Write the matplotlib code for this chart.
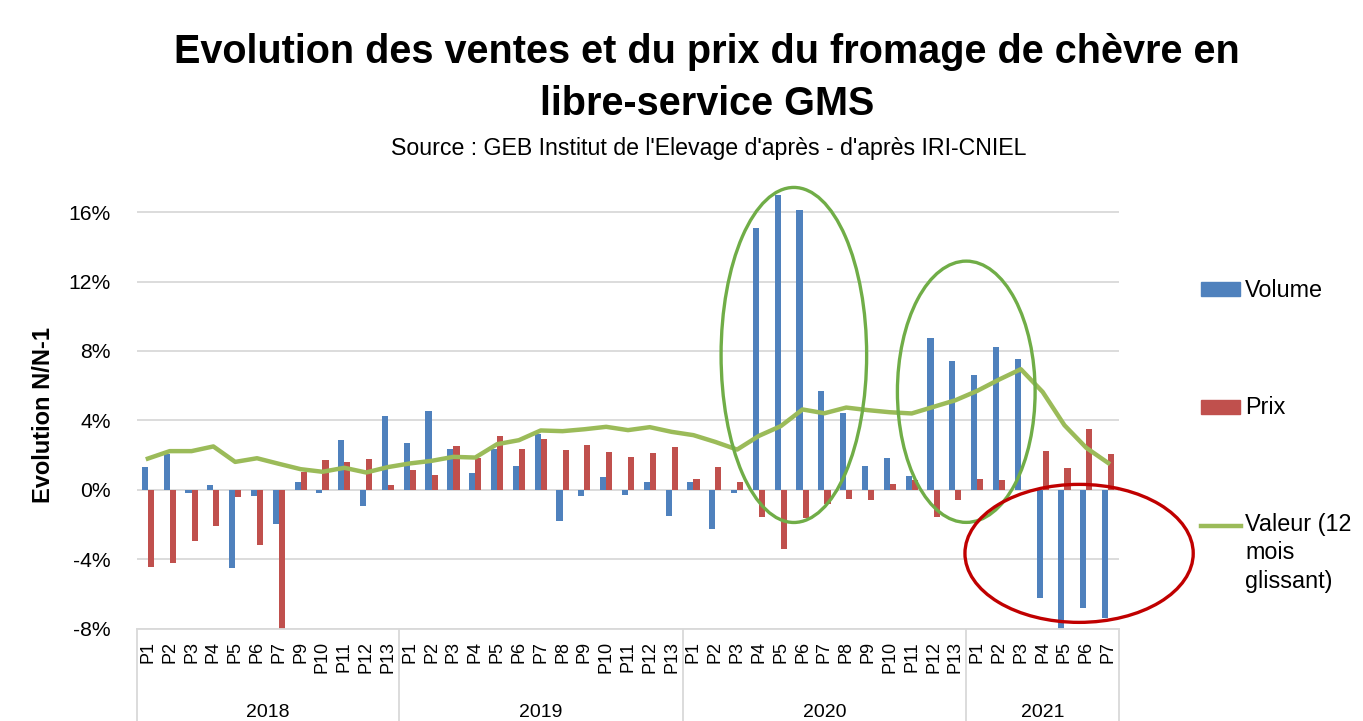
import numpy as np
import matplotlib
matplotlib.use("Agg")
import matplotlib.pyplot as plt
from matplotlib.patches import Ellipse, Rectangle
from matplotlib.lines import Line2D
import matplotlib.transforms as mtransforms

plt.rcParams['font.family'] = ['Liberation Sans', 'DejaVu Sans']

# periods (2018 has no P8)
years = ['2018', '2019', '2020', '2021']
periods = [
    ['P1', 'P2', 'P3', 'P4', 'P5', 'P6', 'P7', 'P9', 'P10', 'P11', 'P12', 'P13'],
    ['P%d' % i for i in range(1, 14)],
    ['P%d' % i for i in range(1, 14)],
    ['P%d' % i for i in range(1, 8)],
]

# evolution N/N-1 in %
volume = [1.31, 2.09, -0.20, 0.27, -4.53, -0.35, -1.94, 0.46, -0.21, 2.86, -0.92, 4.26,
          2.67, 4.53, 2.34, 0.98, 2.38, 1.36, 3.24, -1.77, -0.35, 0.73, -0.29, 0.48, -1.48,
          0.48, -2.28, -0.19, 15.07, 16.97, 16.12, 5.68, 4.40, 1.36, 1.82, 0.79, 8.75, 7.43,
          6.60, 8.22, 7.56, -6.24, -8.30, -6.81, -7.41]
prix = [-4.45, -4.24, -2.97, -2.10, -0.44, -3.20, -8.30, 1.04, 1.73, 1.61, 1.77, 0.25,
        1.17, 0.88, 2.53, 1.86, 3.11, 2.38, 2.94, 2.32, 2.57, 2.17, 1.88, 2.15, 2.44,
        0.60, 1.34, 0.46, -1.55, -3.42, -1.65, -0.84, -0.54, -0.61, 0.36, 0.56, -1.55, -0.60,
        0.61, 0.56, 0.00, 2.23, 1.25, 3.53, 2.05]
valeur = [1.80, 2.23, 2.23, 2.50, 1.61, 1.82, 1.50, 1.19, 1.04, 1.27, 1.00, 1.31,
          1.52, 1.67, 1.90, 1.86, 2.63, 2.86, 3.42, 3.38, 3.49, 3.63, 3.44, 3.61, 3.34,
          3.15, 2.76, 2.32, 3.11, 3.67, 4.63, 4.41, 4.74, 4.59, 4.47, 4.40, 4.78, 5.16,
          5.70, 6.35, 6.95, 5.64, 3.72, 2.42, 1.55]

BLUE = '#4F81BD'
RED = '#C0504D'
GREEN = '#9BBB59'
GRID = '#D9D9D9'

labels = [p for ps in periods for p in ps]
x = np.arange(len(labels))

fig = plt.figure(figsize=(13.63, 7.21), dpi=100)
ax = fig.add_axes([0.1005, 0.128, 0.7205, 0.626])

ax.bar(x - 0.14, volume, width=0.28, color=BLUE, zorder=2)
ax.bar(x + 0.14, prix, width=0.28, color=RED, zorder=2)
ax.plot(x, valeur, color=GREEN, lw=3.2, zorder=3)

ax.set_xlim(-0.5, len(labels) - 0.5)
ax.set_ylim(-8, 18)
ax.set_yticks(np.arange(-8, 17, 4))
ax.set_yticklabels(['%d%%' % v for v in np.arange(-8, 17, 4)])
ax.yaxis.grid(True, color=GRID, lw=1.3, zorder=0)
ax.set_axisbelow(True)
for s in ['left', 'right', 'top']:
    ax.spines[s].set_visible(False)
ax.spines['bottom'].set_color(GRID)
ax.spines['bottom'].set_linewidth(1.3)
ax.tick_params(axis='y', length=0, pad=19, labelsize=15.2)
ax.set_xticks(x)
ax.set_xticklabels(labels, rotation=90)
ax.tick_params(axis='x', length=0, pad=9, labelsize=13)

# year groups under the period labels
trans = mtransforms.blended_transform_factory(ax.transData, ax.transAxes)
bounds = [-0.5]
for ps in periods:
    bounds.append(bounds[-1] + len(ps))
for b in bounds:
    ax.add_line(Line2D([b, b], [0, -0.21], transform=trans, color=GRID, lw=1.3, clip_on=False))
for i, yr in enumerate(years):
    ax.text((bounds[i] + bounds[i + 1]) / 2, -0.185, yr, transform=trans,
            ha='center', va='center', fontsize=14)

# highlight ellipses
ax.add_patch(Ellipse((29.6, 7.77), 6.67, 19.3, fill=False, ec='#70AD47', lw=2.4, zorder=4, clip_on=False))
ax.add_patch(Ellipse((37.5, 5.65), 6.31, 15.05, fill=False, ec='#70AD47', lw=2.4, zorder=4, clip_on=False))
ax.add_patch(Ellipse((42.67, -3.66), 10.46, 7.95, fill=False, ec='#C00000', lw=2.4, zorder=4, clip_on=False))

# titles
fig.text(707 / 1363, 1 - 52 / 721, "Evolution des ventes et du prix du fromage de chèvre en",
         ha='center', va='center', fontsize=28.5, fontweight='bold')
fig.text(707 / 1363, 1 - 104 / 721, "libre-service GMS",
         ha='center', va='center', fontsize=28.5, fontweight='bold')
fig.text(709 / 1363, 1 - 148 / 721, "Source : GEB Institut de l'Elevage d'après - d'après IRI-CNIEL",
         ha='center', va='center', fontsize=16.7)
fig.text(44 / 1363, 1 - 415 / 721, "Evolution N/N-1", rotation=90,
         ha='center', va='center', fontsize=17, fontweight='bold')

# legend, drawn on the figure
W, H = 1363, 721
fig.patches.append(Rectangle((1201 / W, 1 - 296 / H), 39 / W, 14 / H, color=BLUE,
                             transform=fig.transFigure))
fig.patches.append(Rectangle((1201 / W, 1 - 414 / H), 39 / W, 14 / H, color=RED,
                             transform=fig.transFigure))
fig.lines.append(Line2D([1201 / W, 1241 / W], [1 - 526 / H, 1 - 526 / H], color=GREEN, lw=3.2,
                        transform=fig.transFigure))
fig.text(1245 / W, 1 - 290 / H, "Volume", va='center', fontsize=16.8)
fig.text(1245 / W, 1 - 407 / H, "Prix", va='center', fontsize=16.8)
fig.text(1245 / W, 1 - 513 / H, "Valeur (12\nmois\nglissant)", va='top', fontsize=16.8,
         linespacing=1.3)

fig.savefig('out.png', dpi=100)
